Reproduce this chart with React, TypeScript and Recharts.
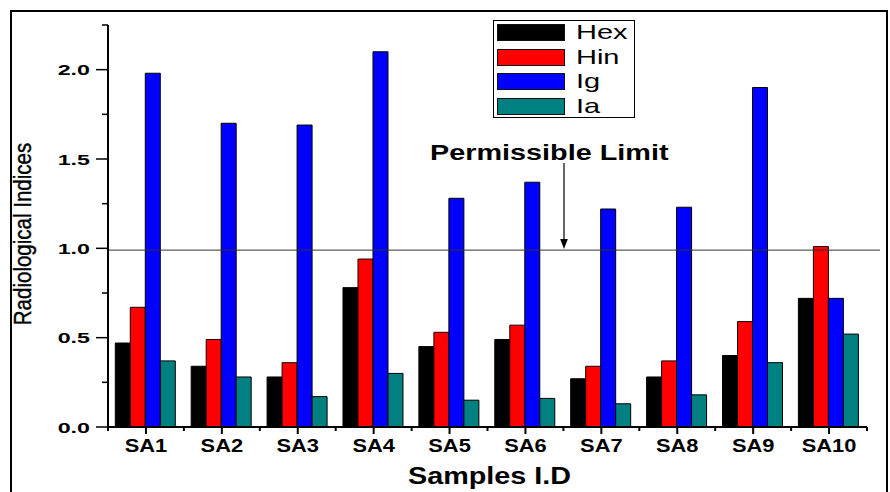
import React from 'react';
import { BarChart, Bar, XAxis, YAxis, ReferenceLine, Legend } from 'recharts';

const categories = ['SA1', 'SA2', 'SA3', 'SA4', 'SA5', 'SA6', 'SA7', 'SA8', 'SA9', 'SA10'];
const seriesNames = ['Hex', 'Hin', 'Ig', 'Ia'];
const hexValues = [0.47, 0.34, 0.28, 0.78, 0.45, 0.49, 0.27, 0.28, 0.40, 0.72];
const hinValues = [0.67, 0.49, 0.36, 0.94, 0.53, 0.57, 0.34, 0.37, 0.59, 1.01];
const igValues = [1.98, 1.70, 1.69, 2.10, 1.28, 1.37, 1.22, 1.23, 1.90, 0.72];
const iaValues = [0.37, 0.28, 0.17, 0.30, 0.15, 0.16, 0.13, 0.18, 0.36, 0.52];
const yTicks = [0, 0.25, 0.5, 0.75, 1.0, 1.25, 1.5, 1.75, 2.0, 2.25];
const yMajorTicks = [0, 0.5, 1.0, 1.5, 2.0];
const permissibleLimit = 0.99;
const permissibleText = 'Permissible Limit';
const xTitle = 'Samples I.D';
const yTitle = 'Radiological Indices';

const data = categories.map((c, i) => ({
  name: c,
  Hex: hexValues[i],
  Hin: hinValues[i],
  Ig: igValues[i],
  Ia: iaValues[i],
}));

const FONT = '"Liberation Sans", Arial, Helvetica, sans-serif';

const YTick = (props: any) => {
  const { x, y, payload } = props;
  const v = payload.value;
  const major = yMajorTicks.some((m) => Math.abs(m - v) < 1e-6);
  return (
    <g>
      <line x1={x - (major ? 12 : 6)} x2={x} y1={y} y2={y} stroke="#000" strokeWidth={1.5} />
      {major && (
        <g transform={`translate(${x - 18},${y + 5.5}) scale(1.55,1)`}>
          <text x={0} y={0} textAnchor="end" fontFamily={FONT} fontWeight="bold" fontSize={15} fill="#000">
            {v.toFixed(1)}
          </text>
        </g>
      )}
    </g>
  );
};

const XTick = (props: any) => {
  const { x, y, payload, index, visibleTicksCount } = props;
  const half = payload && payload.offset ? payload.offset : 38;
  const isLast = index === (visibleTicksCount ? visibleTicksCount - 1 : categories.length - 1);
  return (
    <g>
      <line x1={x} x2={x} y1={y} y2={y + 7} stroke="#000" strokeWidth={2} />
      <line x1={x - half} x2={x - half} y1={y} y2={y + 4} stroke="#000" strokeWidth={2} />
      {isLast && <line x1={x + half} x2={x + half} y1={y} y2={y + 4} stroke="#000" strokeWidth={2} />}
      <g transform={`translate(${x},${y + 25}) scale(1.25,1)`}>
        <text x={0} y={0} textAnchor="middle" fontFamily={FONT} fontWeight="bold" fontSize={17.5} fill="#000">
          {payload.value}
        </text>
      </g>
    </g>
  );
};

const XTitle = (props: any) => {
  const vb = props.viewBox || { x: 108, y: 427, width: 759 };
  return (
    <g transform={`translate(${vb.x + vb.width / 2 + 2},${vb.y + 57}) scale(1.25,1)`}>
      <text x={0} y={0} textAnchor="middle" fontFamily={FONT} fontWeight="bold" fontSize={23} fill="#000">
        {xTitle}
      </text>
    </g>
  );
};

const YTitle = (props: any) => {
  const vb = props.viewBox || { x: 10, y: 25, width: 98, height: 402 };
  return (
    <g transform={`translate(${vb.x + 21},${vb.y + vb.height / 2 + 8}) rotate(-90) scale(0.855,1)`}>
      <text x={0} y={0} textAnchor="middle" fontFamily={FONT} fontSize={24} fill="#000" stroke="#000" strokeWidth={0.4}>
        {yTitle}
      </text>
    </g>
  );
};

const PermLabel = (props: any) => {
  const vb = props.viewBox || { x: 108, y: 250 };
  const ax = vb.x + 456;
  const tip = vb.y - 1;
  return (
    <g>
      <g transform={`translate(${vb.x + 322},${vb.y - 90}) scale(1.31,1)`}>
        <text x={0} y={0} fontFamily={FONT} fontWeight="bold" fontSize={22} fill="#000">
          {permissibleText}
        </text>
      </g>
      <line x1={ax} x2={ax} y1={vb.y - 87} y2={tip - 8} stroke="#000" strokeWidth={1.2} />
      <path d={`M${ax - 3.8},${tip - 10} L${ax + 3.8},${tip - 10} L${ax},${tip} Z`} fill="#000" />
    </g>
  );
};

const RefShape = (props: any) => {
  const { x1, y1, x2, y2 } = props;
  return <line x1={x1} y1={y1} x2={x2 + 13} y2={y2} stroke="#333" strokeWidth={1} />;
};

const LegendBox = (props: any) => {
  const payload = [...(props.payload || [])].sort(
    (a: any, b: any) => seriesNames.indexOf(a.value) - seriesNames.indexOf(b.value)
  );
  return (
    <div
      style={{
        position: 'relative',
        width: 142,
        height: 98,
        border: '1px solid #000',
        boxSizing: 'border-box',
        background: '#fff',
        fontFamily: FONT,
      }}
    >
      {payload.map((p: any, i: number) => (
        <div key={p.value} style={{ position: 'absolute', left: 3, top: 3 + i * 24.5, height: 17, width: 138 }}>
          <div
            style={{
              position: 'absolute',
              left: 0,
              top: 0,
              width: 68,
              height: 17,
              background: p.color,
              border: '1.5px solid #111',
              boxSizing: 'border-box',
            }}
          />
          <div
            style={{
              position: 'absolute',
              left: 79,
              top: -5,
              fontSize: 21,
              lineHeight: '26px',
              color: '#000',
              transform: 'scale(1.38,1)',
              transformOrigin: 'left center',
              whiteSpace: 'nowrap',
            }}
          >
            {p.value}
          </div>
        </div>
      ))}
    </div>
  );
};

export default function App() {
  return (
    <div style={{ position: 'absolute', left: 0, top: 0, width: 890, height: 492, overflow: 'hidden', background: '#fff' }}>
      <BarChart
        width={890}
        height={492}
        data={data}
        margin={{ top: 25, right: 23, left: 10, bottom: 20 }}
        barCategoryGap="9.6%"
        barGap={0}
      >
        <XAxis
          dataKey="name"
          height={45}
          tickSize={0}
          tickMargin={0}
          tickLine={false}
          axisLine={{ stroke: '#000', strokeWidth: 2 }}
          tick={<XTick />}
          interval={0}
          label={<XTitle />}
        />
        <YAxis
          type="number"
          domain={[0, 2.25]}
          ticks={yTicks}
          interval={0}
          width={98}
          tickSize={0}
          tickMargin={0}
          tickLine={false}
          axisLine={{ stroke: '#000', strokeWidth: 2 }}
          tick={<YTick />}
          label={<YTitle />}
        />
        <Legend
          layout="vertical"
          align="center"
          verticalAlign="middle"
          content={<LegendBox />}
          wrapperStyle={{ left: 493, top: 20, width: 142, height: 98 }}
        />
        <ReferenceLine y={permissibleLimit} shape={<RefShape />} label={<PermLabel />} />
        <Bar dataKey="Hex" fill="#000000" stroke="#000" strokeWidth={1} isAnimationActive={false} />
        <Bar dataKey="Hin" fill="#FF0000" stroke="#1a0000" strokeWidth={1} isAnimationActive={false} />
        <Bar dataKey="Ig" fill="#0000FF" stroke="#000" strokeWidth={1} isAnimationActive={false} />
        <Bar dataKey="Ia" fill="#008080" stroke="#000" strokeWidth={1} isAnimationActive={false} />
      </BarChart>
      <div
        style={{
          position: 'absolute',
          left: 10,
          top: 10,
          width: 878,
          height: 520,
          border: '2px solid #000',
          boxSizing: 'border-box',
          pointerEvents: 'none',
        }}
      />
    </div>
  );
}
